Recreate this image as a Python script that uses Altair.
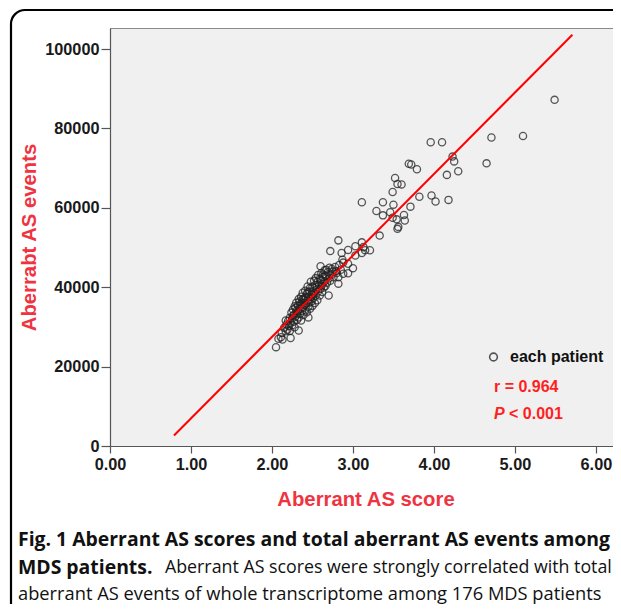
import altair as alt
import pandas as pd

# ---- data ----
outlier_score = [5.49, 5.10, 4.71, 4.65, 3.96, 4.10, 4.23, 4.25, 4.30, 4.16,
                 3.97, 4.02, 4.18, 3.82, 3.71, 3.69, 3.72, 3.79, 3.52, 3.55,
                 3.60, 3.49, 3.11, 3.37, 3.50, 3.29, 3.37, 3.46, 3.49, 3.54,
                 3.63, 3.64, 3.55, 3.56, 3.33, 3.11, 2.82, 2.72, 2.94, 3.03,
                 3.13, 3.15, 3.21, 2.86, 2.87, 3.03, 3.11, 2.94, 3.00, 2.60,
                 2.67, 2.74, 2.79, 2.82, 2.88, 2.94, 2.63, 2.05, 2.08, 2.13,
                 2.82, 2.70, 2.45, 2.33, 2.23, 2.11, 2.17]
outlier_events = [87200, 78100, 77700, 71200, 76500, 76500, 72900, 71700, 69200, 68300,
                  63100, 61600, 62000, 62800, 60300, 71100, 70900, 69700, 67500, 66000,
                  65900, 64000, 61400, 61400, 60800, 59200, 58100, 58900, 57500, 57100,
                  58200, 56800, 54700, 55200, 53000, 51300, 51800, 49100, 49400, 50300,
                  50100, 49300, 49300, 48600, 46900, 48000, 48600, 45900, 44800, 45300,
                  44400, 44600, 44000, 42500, 43400, 43500, 43200, 24900, 27000, 26800,
                  40900, 37900, 32400, 29100, 27200, 27400, 31600]

cluster_score = [2.12, 2.15, 2.17, 2.18, 2.19, 2.20, 2.21, 2.22, 2.22, 2.23,
                 2.24, 2.25, 2.25, 2.26, 2.27, 2.27, 2.28, 2.28, 2.29, 2.30,
                 2.30, 2.31, 2.31, 2.32, 2.33, 2.33, 2.34, 2.34, 2.35, 2.35,
                 2.36, 2.36, 2.37, 2.37, 2.38, 2.38, 2.39, 2.39, 2.40, 2.40,
                 2.41, 2.41, 2.42, 2.42, 2.43, 2.43, 2.44, 2.44, 2.45, 2.45,
                 2.46, 2.46, 2.47, 2.47, 2.48, 2.48, 2.49, 2.49, 2.50, 2.50,
                 2.51, 2.51, 2.52, 2.52, 2.53, 2.53, 2.54, 2.54, 2.55, 2.56,
                 2.56, 2.57, 2.57, 2.58, 2.59, 2.59, 2.60, 2.60, 2.61, 2.62,
                 2.62, 2.63, 2.64, 2.65, 2.65, 2.66, 2.67, 2.68, 2.69, 2.70,
                 2.71, 2.72, 2.73, 2.75, 2.76, 2.78, 2.80, 2.83, 2.85, 2.88,
                 2.26, 2.32, 2.38, 2.44, 2.50, 2.55, 2.61, 2.66, 2.29]
cluster_events = [28500, 29800, 28900, 30600, 29300, 31500, 30200, 29000, 32300, 31000,
                  33600, 30400, 32100, 34400, 31300, 33000, 35200, 29900, 32600, 34000,
                  36100, 31800, 33300, 35300, 37000, 32400, 34600, 36400, 33400, 35800,
                  37600, 31600, 34000, 36100, 38600, 35000, 33000, 37100, 35500, 36800,
                  39100, 34200, 37600, 35900, 38300, 33700, 36500, 40200, 37400, 35100,
                  38900, 36100, 39800, 34600, 37600, 41400, 38300, 36400, 40100, 35300,
                  39000, 37300, 41600, 38400, 36000, 40500, 42300, 37900, 39400, 41300,
                  36700, 43100, 38900, 40600, 42100, 37900, 39600, 41800, 43600, 38800,
                  40900, 42600, 39900, 41500, 44300, 40300, 42800, 41100, 43800, 42200,
                  44900, 41600, 43200, 44000, 42500, 45100, 43600, 45600, 44400, 46200,
                  32800, 33900, 37000, 38700, 38000, 40000, 40300, 43000, 34800]

fit_score = [0.79, 5.71]
fit_events = [2650, 103600]

x_ticks = [0, 1, 2, 3, 4, 5, 6]
y_ticks = [0, 20000, 40000, 60000, 80000, 100000]

x_title = "Aberrant AS score"
y_title = "Aberrabt AS events"
legend_label = "each patient"
r_text = "r = 0.964"
p_letter = "P"
p_rest = "< 0.001"
caption1 = "Fig. 1 Aberrant AS scores and total aberrant AS events among"
caption2_bold = "MDS patients."
caption2_rest = "Aberrant AS scores were strongly correlated with total"
caption3 = "aberrant AS events of whole transcriptome among 176 MDS patients"

# ---- layout ----
W, H = 511, 418
PAD_L, PAD_T, PAD_R = 102, 20, -8
SVG_H = 596
PAD_B = SVG_H - PAD_T - H

pts = pd.DataFrame({"score": outlier_score + cluster_score,
                    "events": outlier_events + cluster_events})
fit = pd.DataFrame({"score": fit_score, "events": fit_events})

xscale = alt.Scale(domain=[0, 6.31], nice=False, zero=False)
yscale = alt.Scale(domain=[0, 105300], nice=False, zero=False)

TITLE_RED = "#ef3340"
TXT_RED = "#ff1f1f"

xaxis = alt.Axis(values=x_ticks, format=".2f", title=x_title, grid=False,
                 tickSize=7, labelPadding=3, labelFlush=False, labelOverlap=False,
                 titleX=255.5, titleY=53, titleBaseline="middle", titleAlign="center")
yaxis = alt.Axis(values=y_ticks, format="d", title=y_title, grid=False,
                 tickSize=9, labelPadding=2, labelOverlap=False,
                 titleX=-81, titleY=209, titleBaseline="middle", titleAlign="center")

points = alt.Chart(pts).mark_point(
    shape="circle", filled=False, size=52, color="#222222",
    strokeWidth=1.3, opacity=0.75
).encode(
    x=alt.X("score:Q", scale=xscale, axis=xaxis),
    y=alt.Y("events:Q", scale=yscale, axis=yaxis),
)

line = alt.Chart(fit).mark_line(color="#ff0000", strokeWidth=2).encode(
    x=alt.X("score:Q", scale=xscale),
    y=alt.Y("events:Q", scale=yscale),
)


def text_at(txt, x, y, **kw):
    return alt.Chart(pd.DataFrame({"t": [txt]})).mark_text(
        align="left", baseline="middle", **kw
    ).encode(x=alt.value(x), y=alt.value(y), text="t:N")


frame = alt.Chart(pd.DataFrame({"t": [0]})).mark_rect(
    fill="transparent", stroke="#000000", strokeWidth=2.2, cornerRadius=14
).encode(x=alt.value(-99), y=alt.value(-18), x2=alt.value(760), y2=alt.value(800))

legend_sym = alt.Chart(pd.DataFrame({"t": [0]})).mark_point(
    shape="circle", filled=False, size=60, color="#111111", strokeWidth=1.6
).encode(x=alt.value(383.5), y=alt.value(329))

LF = "Liberation Sans"
CF = "Open Sans"
annotations = [
    text_at(legend_label, 400, 329, font=LF, fontSize=16, fontWeight="bold", color="#111111"),
    text_at(r_text, 384, 358.5, font=LF, fontSize=16, fontWeight="bold", color=TXT_RED),
    text_at(p_letter, 384, 386, font=LF, fontSize=16, fontWeight="bold", fontStyle="italic", color=TXT_RED),
    text_at(p_rest, 399, 386, font=LF, fontSize=16, fontWeight="bold", color=TXT_RED),
    text_at(caption1, -92, 512, font=CF, fontSize=19.4, fontWeight="bold", color="#111111"),
    text_at(caption2_bold, -92, 540, font=CF, fontSize=19.4, fontWeight="bold", color="#111111"),
    text_at(caption2_rest, 55, 540, font=CF, fontSize=17.8, color="#111111"),
    text_at(caption3, -92, 567, font=CF, fontSize=18.3, color="#111111"),
]

chart = alt.layer(points, line, legend_sym, *annotations, frame).properties(
    width=W, height=H,
    autosize=alt.AutoSizeParams(type="none"),
    padding={"left": PAD_L, "top": PAD_T, "right": PAD_R, "bottom": PAD_B},
    background="white",
).configure_view(
    fill="#f0f0f0", stroke="#8a8a8a", strokeWidth=1
).configure_axis(
    labelFont=LF, labelFontSize=16.3, labelFontWeight="bold", labelColor="#1a1a1a",
    titleFont=LF, titleFontSize=20.3, titleFontWeight="bold", titleColor=TITLE_RED,
    domainColor="#555555", domainWidth=1.2, tickColor="#555555", tickWidth=1.2,
)

chart.save("out.html", embed_options={"renderer": "svg", "actions": False})
